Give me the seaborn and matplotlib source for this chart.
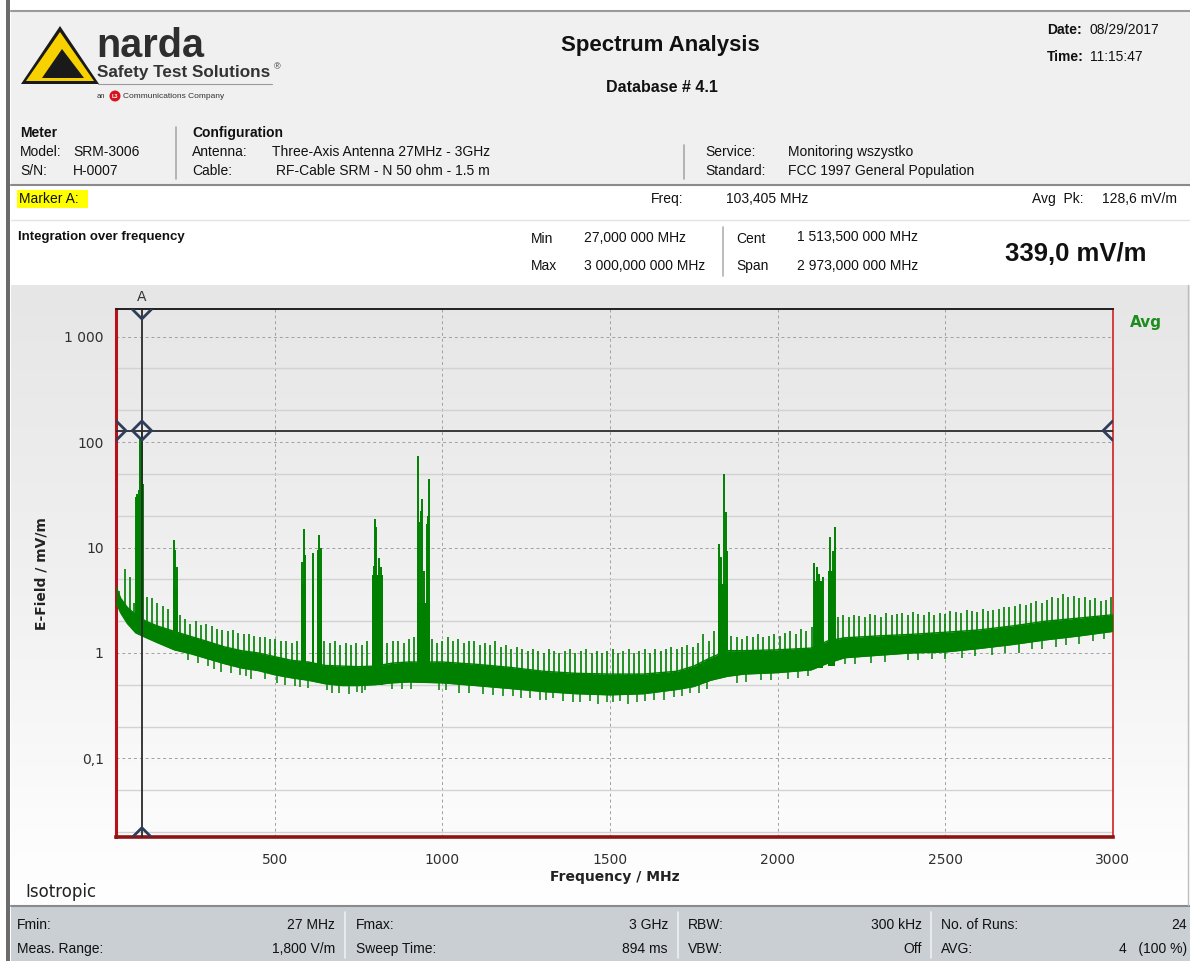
import numpy as np
import pandas as pd
import matplotlib
matplotlib.use("Agg")
import matplotlib.pyplot as plt
import seaborn as sns
from matplotlib.patches import Rectangle, Polygon, Circle
from matplotlib.colors import LinearSegmentedColormap
from matplotlib.ticker import FixedLocator, FixedFormatter, LogLocator, NullFormatter, NullLocator

sns.set_style("white")
plt.rcParams['font.family'] = ['DejaVu Sans']
UI = ['Liberation Sans', 'DejaVu Sans']
GREEN = '#008000'

# ---------------- data (MHz, mV/m) ----------------
# noise floor band: lower / upper edge of the dense trace
band_freq = [27, 40, 60, 85, 115, 150, 200, 250, 300, 350, 400, 450, 500, 550, 600, 650,
             700, 750, 800, 850, 900, 1000, 1100, 1200, 1300, 1400, 1500, 1600, 1700, 1750,
             1800, 1850, 1900, 2000, 2100, 2150, 2200, 2300, 2400, 2500, 2600, 2700, 2800,
             2900, 3000]
band_lo = [3.0, 2.4, 1.9, 1.55, 1.4, 1.25, 1.07, 0.98, 0.88, 0.79, 0.72, 0.68, 0.62, 0.58, 0.55, 0.51,
           0.49, 0.49, 0.5, 0.52, 0.53, 0.52, 0.49, 0.46, 0.43, 0.41, 0.40, 0.41, 0.45, 0.48,
           0.55, 0.60, 0.63, 0.65, 0.69, 0.80, 0.90, 0.95, 1.0, 1.02, 1.1, 1.2, 1.33,
           1.45, 1.6]
band_hi = [4.2, 3.3, 2.7, 2.3, 2.0, 1.8, 1.6, 1.43, 1.28, 1.14, 1.05, 1.0, 0.92, 0.85, 0.82, 0.76,
           0.75, 0.74, 0.75, 0.8, 0.82, 0.82, 0.78, 0.73, 0.67, 0.64, 0.63, 0.63, 0.67, 0.75,
           0.9, 1.05, 1.05, 1.07, 1.11, 1.30, 1.39, 1.45, 1.5, 1.57, 1.65, 1.8, 2.0,
           2.14, 2.3]

# periodic comb spikes standing above the floor
comb_freq = [36, 52, 67, 80,
             118, 133, 149, 165, 181,
             217, 232, 248, 264, 280, 296, 312, 328, 343, 359, 375, 391, 407, 423, 439, 455,
             470, 486, 502, 518, 534, 550, 566,
             648, 664, 680, 695, 711, 727, 743, 759, 775,
             836, 852, 868, 884, 900, 916,
             968, 984, 1000, 1016, 1031, 1047, 1063, 1079, 1095, 1111,
             1127, 1143, 1158, 1174, 1190, 1206, 1222, 1238, 1254, 1270,
             1286, 1302, 1317, 1333, 1349, 1365, 1381, 1397, 1413, 1429,
             1445, 1461, 1476, 1492, 1508, 1524, 1540, 1556, 1572, 1588,
             1604, 1620, 1635, 1651, 1667, 1683, 1699, 1715, 1731, 1747,
             1763, 1779, 1795, 1811,
             1862, 1878, 1894, 1910, 1926, 1942, 1958, 1974, 1990, 2006, 2022, 2038, 2054,
             2070, 2086, 2102,
             2180, 2196, 2212, 2228, 2244, 2260, 2276, 2292, 2308, 2324,
             2340, 2356, 2372, 2388, 2404, 2420, 2436, 2452, 2468, 2484,
             2500, 2516, 2532, 2548, 2564, 2580, 2596, 2612, 2628, 2644,
             2660, 2676, 2692, 2708, 2724, 2740, 2756, 2772, 2788, 2804,
             2820, 2836, 2852, 2868, 2884, 2900, 2916, 2932, 2948, 2964,
             2980, 2994]
comb_top = [3.9, 6.3, 5.3, 3.0,
            3.4, 3.3, 3.0, 2.8, 2.6,
            2.3, 2.1, 1.9, 2.0, 1.85, 1.9, 1.8, 1.7, 1.65, 1.6, 1.65, 1.55, 1.5, 1.5, 1.45, 1.4,
            1.4, 1.35, 1.35, 1.3, 1.3, 1.25, 1.3,
            1.3, 1.25, 1.3, 1.2, 1.25, 1.2, 1.25, 1.2, 1.3,
            1.25, 1.3, 1.3, 1.25, 1.35, 1.4,
            1.35, 1.25, 1.3, 1.4, 1.3, 1.35, 1.25, 1.3, 1.3, 1.2,
            1.25, 1.2, 1.3, 1.15, 1.2, 1.1, 1.15, 1.1, 1.05, 1.1,
            1.05, 1.0, 1.1, 1.05, 1.0, 1.05, 1.1, 1.0, 1.05, 1.1,
            1.0, 1.05, 1.0, 1.05, 1.1, 1.0, 1.05, 1.1, 1.0, 1.05,
            1.1, 1.0, 1.1, 1.05, 1.1, 1.15, 1.1, 1.15, 1.2, 1.15,
            1.25, 1.5, 1.3, 1.6,
            1.45, 1.4, 1.35, 1.45, 1.4, 1.5, 1.4, 1.45, 1.5, 1.45, 1.55, 1.6, 1.5,
            1.7, 1.6, 1.75,
            2.2, 2.3, 2.2, 2.3, 2.25, 2.2, 2.35, 2.3, 2.2, 2.4,
            2.3, 2.35, 2.4, 2.3, 2.45, 2.35, 2.3, 2.45, 2.3, 2.4,
            2.35, 2.5, 2.45, 2.4, 2.55, 2.5, 2.45, 2.6, 2.5, 2.55,
            2.6, 2.75, 2.7, 2.8, 2.9, 2.85, 3.0, 3.1, 3.0, 3.2,
            3.4, 3.3, 3.6, 3.4, 3.5, 3.3, 3.4, 3.2, 3.3, 3.1,
            3.2, 3.4]

# downward noise excursions below the floor
dip_freq = [240, 270, 300, 320, 340, 370, 395, 415, 430, 470, 505, 530, 560, 575, 600,
            655, 670, 690, 720, 745, 760, 770, 850, 880, 905, 990, 1010, 1050, 1080, 1120,
            1150, 1180, 1210, 1235, 1260, 1290, 1310, 1330, 1360, 1390, 1410, 1440, 1465,
            1490, 1510, 1530, 1555, 1580, 1605, 1630, 1660, 1690, 1715, 1740, 1765, 1790,
            1880, 1905, 1950, 1980, 2030, 2060, 2090, 2200, 2230, 2280, 2320, 2390, 2420,
            2460, 2500, 2550, 2590, 2640, 2680, 2720, 2760, 2790, 2830, 2860, 2900, 2940, 2975]
dip_bot = [0.85, 0.8, 0.75, 0.7, 0.66, 0.64, 0.62, 0.6, 0.57, 0.56, 0.52, 0.5, 0.49, 0.47, 0.46,
           0.44, 0.42, 0.42, 0.41, 0.43, 0.42, 0.44, 0.45, 0.45, 0.45, 0.44, 0.44, 0.42, 0.42, 0.41,
           0.4, 0.39, 0.39, 0.37, 0.37, 0.36, 0.36, 0.37, 0.35, 0.34, 0.34, 0.35, 0.33,
           0.34, 0.34, 0.35, 0.33, 0.34, 0.35, 0.36, 0.36, 0.38, 0.39, 0.42, 0.42, 0.45,
           0.52, 0.53, 0.55, 0.55, 0.57, 0.58, 0.6, 0.78, 0.78, 0.8, 0.82, 0.85, 0.86,
           0.88, 0.88, 0.9, 0.93, 0.95, 1.0, 1.0, 1.08, 1.1, 1.15, 1.2, 1.22, 1.3, 1.35]

# occupied bands (FM, DAB, DVB-T, LTE800, GSM900, LTE1800, UMTS)
block_f0 = [86, 197, 578, 610, 626, 790, 923, 1821, 2108, 2150]
block_f1 = [108, 211, 594, 618, 642, 822, 962, 1852, 2137, 2172]
block_lo = [1.6, 1.3, 0.55, 0.55, 0.55, 0.5, 0.55, 0.65, 0.72, 0.75]
block_hi = [25, 4.0, 4.5, 4.5, 5.0, 5.5, 3.0, 4.5, 4.8, 6.0]

peak_freq = [87, 89, 91, 93, 95, 97, 99, 101, 103.4, 105, 107,
             199, 203, 207,
             581, 587, 590, 614, 628, 632, 638,
             795, 799, 803, 810, 816,
             926, 930, 935, 940, 945, 953, 957, 960,
             1826, 1831, 1840, 1845, 1848,
             2110, 2117, 2125, 2135, 2157, 2164, 2170]
peak_top = [30, 32, 28, 31, 35, 95, 110, 100, 128.6, 112, 40,
            11.8, 9.5, 6.5,
            7.3, 15.0, 8.5, 8.9, 9.5, 13.0, 10.0,
            6.7, 18.8, 15.5, 8.0, 6.6,
            74.0, 17.6, 22.0, 29.0, 6.0, 16.8, 19.8, 45.0,
            10.9, 8.2, 50.0, 21.8, 9.3,
            7.1, 6.6, 5.6, 5.3, 12.7, 9.3, 15.7]

marker_freq = 103.405
marker_level = 128.6

x_ticks = [500, 1000, 1500, 2000, 2500, 3000]
y_ticks = [0.1, 1, 10, 100, 1000]
y_tick_labels = ['0,1', '1', '10', '100', '1 000']
x_lim = (27, 3000)
y_lim = (0.0178, 1820)

# ---------------- figure / report frame ----------------
fig = plt.figure(figsize=(11.9, 9.61), dpi=100)
fig.patch.set_facecolor('white')

bg = fig.add_axes([0, 0, 1, 1])
bg.set_zorder(0)
panel_cmap = LinearSegmentedColormap.from_list(
    'panel', [(0, '#e6e6e6'), (0.5, '#f1f1f1'), (0.88, '#fcfcfc'), (1, '#ffffff')])
bg.imshow(np.linspace(0, 1, 256).reshape(-1, 1), extent=[11, 1190, 905, 285],
          cmap=panel_cmap, aspect='auto', interpolation='bicubic', zorder=0)
bg.add_patch(Rectangle((11, 11), 1179, 174, fc='#f0f0f0', ec='none', zorder=1))
bg.add_patch(Rectangle((11, 186), 1179, 99, fc='white', ec='none', zorder=1))
bg.add_patch(Rectangle((11, 907), 1179, 54, fc='#cacfd4', ec='none', zorder=1))
bg.add_patch(Rectangle((6, 0), 4, 961, fc='#6b6b6b', ec='none', zorder=2))
bg.plot([11, 1190], [11, 11], color='#9a9a9a', lw=1.5, zorder=2)
bg.plot([11, 1190], [185, 185], color='#8a8a8a', lw=1.5, zorder=2)
bg.plot([11, 1190], [219.5, 219.5], color='#e4e4e4', lw=1, zorder=2)
bg.plot([11, 1190], [906, 906], color='#8a8a8a', lw=1.5, zorder=2)
bg.plot([1188, 1188], [285, 905], color='#bdbdbd', lw=1, zorder=2)
for xs, y0, y1, c in [(176, 127, 179, '#a8a8a8'), (684, 145, 179, '#a8a8a8'),
                      (723, 227, 276, '#b0b0b0'), (345, 912, 958, '#eef0f2'),
                      (678, 912, 958, '#eef0f2'), (931, 912, 958, '#eef0f2')]:
    bg.plot([xs, xs], [y0, y1], color=c, lw=1.2, zorder=2)

# narda logo
bg.add_patch(Polygon([(21, 84), (60, 26), (99, 84)], closed=True, fc='#1a1a1a', ec='none', zorder=3))
bg.add_patch(Polygon([(26, 81), (60, 32), (94, 81)], closed=True, fc='#f7d100', ec='none', zorder=3))
bg.add_patch(Polygon([(42, 78), (62, 49), (84, 78)], closed=True, fc='#1a1a1a', ec='none', zorder=3))
bg.text(96, 46, 'narda', family=UI, fontsize=28.5, fontweight='bold', color='#2e2e2e',
        va='center', ha='left', zorder=4)
bg.text(97, 73, 'Safety Test Solutions', family=UI, fontsize=12.3, fontweight='bold', color='#333333',
        va='center', ha='left', zorder=4)
bg.text(274, 67, '®', family=UI, fontsize=6.5, color='#333333', va='center', ha='left', zorder=4)
bg.plot([98, 272], [84, 84], color='#9a9a9a', lw=0.8, zorder=4)
bg.text(97, 96, 'an', family=UI, fontsize=5.5, color='#333', va='center', ha='left', zorder=4)
bg.add_patch(Circle((115, 96), 5.5, fc='#d7141e', ec='none', zorder=4))
bg.text(115, 96.5, 'L3', family=UI, fontsize=4, fontweight='bold', color='white',
        va='center', ha='center', zorder=5)
bg.text(123, 96, 'Communications Company', family=UI, fontsize=6, color='#333',
        va='center', ha='left', zorder=4)


def ui(x, y, s, ha='left', size=10, bold=False, color='#111111', family=UI):
    bg.text(x, y, s, family=family, fontsize=size, fontweight='bold' if bold else 'normal',
            color=color, ha=ha, va='center', zorder=5)


ui(660, 46, 'Spectrum Analysis', ha='center', size=16, bold=True)
ui(662, 88, 'Database # 4.1', ha='center', size=11.5, bold=True)
ui(1047, 30, 'Date:', bold=True)
ui(1090, 30, '08/29/2017')
ui(1047, 57, 'Time:', bold=True)
ui(1090, 57, '11:15:47')

ui(20, 133, 'Meter', bold=True)
ui(20, 152, 'Model:')
ui(73, 152, 'SRM-3006')
ui(20, 171, 'S/N:')
ui(73, 171, 'H-0007')
ui(192, 133, 'Configuration', bold=True)
ui(192, 152, 'Antenna:')
ui(272, 152, 'Three-Axis Antenna 27MHz - 3GHz')
ui(192, 171, 'Cable:')
ui(276, 171, 'RF-Cable SRM - N 50 ohm - 1.5 m')
ui(705, 152, 'Service:')
ui(788, 152, 'Monitoring wszystko')
ui(705, 171, 'Standard:')
ui(788, 171, 'FCC 1997 General Population')

bg.add_patch(Rectangle((17, 190), 71, 18, fc='#ffff00', ec='none', zorder=3))
ui(19, 199, 'Marker A:')
ui(651, 199, 'Freq:')
ui(726, 199, '103,405 MHz')
ui(1032, 199, 'Avg  Pk:')
ui(1102, 199, '128,6 mV/m')

ui(18, 237, 'Integration over frequency', size=9.5, bold=True)
ui(531, 239, 'Min')
ui(584, 238, '27,000 000 MHz')
ui(531, 266, 'Max')
ui(584, 266, '3 000,000 000 MHz')
ui(736, 239, 'Cent')
ui(797, 237, '1 513,500 000 MHz')
ui(736, 266, 'Span')
ui(797, 266, '2 973,000 000 MHz')
ui(1005, 254, '339,0 mV/m', size=18.5, bold=True)

for y, items in [(925, [('Fmin:', 17, '27 MHz', 335), ('Fmax:', 356, '3 GHz', 668),
                        ('RBW:', 688, '300 kHz', 922), ('No. of Runs:', 941, '24', 1187)]),
                 (949, [('Meas. Range:', 17, '1,800 V/m', 335), ('Sweep Time:', 356, '894 ms', 668),
                        ('VBW:', 688, 'Off', 922), ('AVG:', 941, '4   (100 %)', 1187)])]:
    for lab, xl, val, xr in items:
        ui(xl, y, lab)
        ui(xr, y, val, ha='right')

ui(25, 892, 'Isotropic', size=12, family=['DejaVu Sans'], color='#222222')
ui(1130, 323, 'Avg', size=11, bold=True, color='#1e8c1e', family=['DejaVu Sans'])
ui(142, 297, 'A', ha='center', size=10, family=['DejaVu Sans'], color='#333333')

bg.set_xlim(0, 1190)
bg.set_ylim(961, 0)
bg.axis('off')

# ---------------- spectrum axes ----------------
ax = fig.add_axes([116.3 / 1190, 1 - 837.3 / 961, 996.4 / 1190, 528 / 961])
ax.set_zorder(2)
ax.patch.set_alpha(0)
ax.set_yscale('log')

band = pd.DataFrame({'freq': band_freq, 'lo': band_lo, 'hi': band_hi})
ax.fill_between(band['freq'], band['lo'], band['hi'], color=GREEN, lw=0, zorder=3)
sns.lineplot(data=band, x='freq', y='hi', ax=ax, color=GREEN, lw=1.0, estimator=None, sort=False, zorder=3)
sns.lineplot(data=band, x='freq', y='lo', ax=ax, color=GREEN, lw=1.0, estimator=None, sort=False, zorder=3)

ax.vlines(comb_freq, np.interp(comb_freq, band_freq, band_lo), comb_top, color=GREEN, lw=1.2, zorder=3)
ax.vlines(dip_freq, dip_bot, np.interp(dip_freq, band_freq, band_hi), color=GREEN, lw=1.1, zorder=3)
for f0, f1, lo, hi in zip(block_f0, block_f1, block_lo, block_hi):
    ax.fill_between([f0, f1], [lo, lo], [hi, hi], color=GREEN, lw=0, zorder=3)
ax.vlines(peak_freq, np.interp(peak_freq, band_freq, band_lo), peak_top, color=GREEN, lw=1.4, zorder=3)

# marker A cross-hair
ax.axvline(marker_freq, color='#2a2a2a', lw=1.3, zorder=5)
ax.axhline(marker_level, color='#2a2a2a', lw=1.3, zorder=5)
sns.scatterplot(x=[marker_freq, marker_freq, marker_freq, x_lim[0], x_lim[1]],
                y=[marker_level, y_lim[1], y_lim[0], marker_level, marker_level],
                marker='D', s=95, facecolors='none', edgecolor='#2e3d5c', linewidth=2.0,
                ax=ax, zorder=6, legend=False)

ax.set_xlim(*x_lim)
ax.set_ylim(*y_lim)
ax.xaxis.set_major_locator(FixedLocator(x_ticks))
ax.xaxis.set_minor_locator(NullLocator())
ax.yaxis.set_major_locator(FixedLocator(y_ticks))
ax.yaxis.set_major_formatter(FixedFormatter(y_tick_labels))
ax.yaxis.set_minor_locator(LogLocator(base=10, subs=(2.0, 5.0), numticks=20))
ax.yaxis.set_minor_formatter(NullFormatter())

ax.grid(True, which='major', axis='both', color='#a0a0a0', ls=(0, (3, 3)), lw=0.7, zorder=1)
ax.grid(True, which='minor', axis='y', color='#d2d2d2', ls='-', lw=1.0, zorder=1)
ax.set_axisbelow(True)
ax.tick_params(axis='both', which='major', labelsize=10, labelcolor='#303030', color='#8a8a8a',
               length=4, width=1, direction='out')
ax.tick_params(axis='x', which='major', pad=7)
ax.tick_params(axis='y', which='major', pad=5)
ax.tick_params(which='minor', length=0)

for side in ['left', 'bottom', 'right', 'top']:
    ax.spines[side].set_visible(True)
ax.spines['left'].set_color('#b5121b')
ax.spines['left'].set_linewidth(2.2)
ax.spines['bottom'].set_color('#8e1414')
ax.spines['bottom'].set_linewidth(2.6)
ax.spines['right'].set_color('#d02020')
ax.spines['right'].set_linewidth(1.2)
ax.spines['top'].set_color('#202020')
ax.spines['top'].set_linewidth(1.4)

ax.set_xlabel('Frequency / MHz', fontsize=10, fontweight='bold', color='#222222')
ax.set_ylabel('E-Field / mV/m', fontsize=10, fontweight='bold', color='#222222')
ax.xaxis.set_label_coords(0.5, -0.061)
ax.yaxis.set_label_coords(-0.068, 0.5)

fig.savefig('out.png', dpi=100)
